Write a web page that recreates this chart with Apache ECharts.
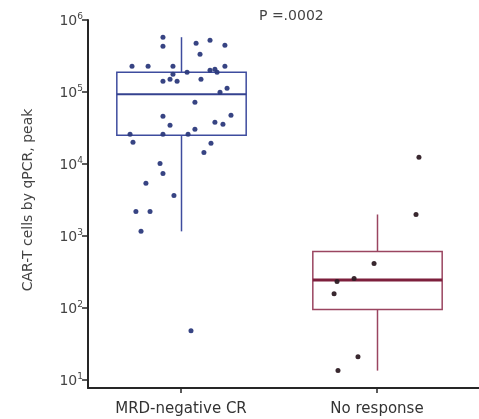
<!DOCTYPE html>
<html>
<head>
<meta charset="utf-8">
<script src="https://cdn.jsdelivr.net/npm/echarts@6/dist/echarts.min.js"></script>
<style>
  html, body { margin: 0; padding: 0; background: #fff; }
  #chart { width: 479px; height: 419px; }
</style>
</head>
<body>
<div id="chart"></div>
<script>
// Response groups on the x axis
const categories = ['MRD-negative CR', 'No response'];

// Box summaries per group: [lower whisker, Q1, median, Q3, upper whisker]
const mrdBox = [1160, 25000, 93000, 188000, 577000];
const nrBox = [13.5, 95, 245, 608, 1990];

// Individual peak CAR-T values (cells by qPCR) and their horizontal jitter within the group
const mrdValues = [
  577000, 433000, 476000, 524000, 447000, 335000,
  228000, 228000, 228000, 228000,
  141000, 150000, 141000, 177000, 188000, 150000, 201000, 207000, 188000,
  113000, 99000, 72000,
  46000, 34400, 30300, 25800, 37900, 35600, 47400,
  25800, 20000, 25800, 10200, 19400, 14500,
  7400, 5400, 3660, 2190, 2190, 1160, 48.5
];
const mrdJitter = [
  -0.092, -0.092, 0.077, 0.148, 0.224, 0.097,
  -0.250, -0.168, -0.041, 0.224,
  -0.092, -0.056, -0.020, -0.041, 0.031, 0.102, 0.148, 0.173, 0.184,
  0.235, 0.199, 0.071,
  -0.092, -0.056, 0.071, 0.036, 0.173, 0.214, 0.255,
  -0.260, -0.245, -0.092, -0.107, 0.153, 0.117,
  -0.092, -0.179, -0.036, -0.230, -0.158, -0.204, 0.051
];
const nrValues = [12400, 1990, 415, 233, 257, 158, 21, 13.5];
const nrJitter = [0.214, 0.199, -0.015, -0.204, -0.117, -0.219, -0.097, -0.199];

// Decade tick values shown on the log axis
const yTickValues = [10, 100, 1000, 10000, 100000, 1000000];

const pValueText = 'P =.0002';
const yTitle = 'CAR-T cells by qPCR, peak';

const FONT = '"DejaVu Sans", Verdana, sans-serif';
const styles = [
  { box: '#3e4c9e', median: '#35428f', dot: '#2c3a7c' },
  { box: '#9a4560', median: '#7d1f3c', dot: '#2e1c24' }
];

const boxData = [mrdBox, nrBox].map((s, i) => [i].concat(s));
const mrdPoints = mrdValues.map((v, i) => [0 + mrdJitter[i], v]);
const nrPoints = nrValues.map((v, i) => [1 + nrJitter[i], v]);

function renderBox(params, api) {
  const idx = api.value(0);
  const st = styles[idx];
  const low = api.coord([idx, api.value(1)]);
  const q1 = api.coord([idx, api.value(2)]);
  const med = api.coord([idx, api.value(3)]);
  const q3 = api.coord([idx, api.value(4)]);
  const high = api.coord([idx, api.value(5)]);
  const half = api.size([1, 0])[0] * 0.33;
  const cx = Math.round(low[0]) + 0.5;
  const line = (x1, y1, x2, y2, w, c) => ({
    type: 'line',
    shape: { x1, y1, x2, y2 },
    style: { stroke: c, lineWidth: w }
  });
  return {
    type: 'group',
    children: [
      line(cx, high[1], cx, q3[1], 1.5, st.box),
      line(cx, q1[1], cx, low[1], 1.5, st.box),
      {
        type: 'rect',
        shape: { x: cx - half, y: q3[1], width: half * 2, height: q1[1] - q3[1] },
        style: { fill: 'rgba(255,255,255,0)', stroke: st.box, lineWidth: 1.5 }
      },
      line(cx - half, med[1], cx + half, med[1], idx === 0 ? 2 : 3, st.median)
    ]
  };
}

const chart = echarts.init(document.getElementById('chart'), null, { renderer: 'canvas' });

chart.setOption({
  backgroundColor: '#ffffff',
  animation: false,
  textStyle: { fontFamily: FONT },
  grid: [
    // frame grid: carries the L-shaped axis lines
    { left: 88, right: 0, top: 20, bottom: 31 },
    // data grid
    { left: 83, width: 392, top: 20, bottom: 39 }
  ],
  xAxis: [
    {
      gridIndex: 0, type: 'value', min: 0, max: 1,
      axisLine: { show: true, onZero: false, lineStyle: { color: '#262626', width: 2 } },
      axisTick: { show: false }, axisLabel: { show: false }, splitLine: { show: false }
    },
    {
      gridIndex: 1, type: 'category', data: categories, offset: 8,
      axisLine: { show: false, onZero: false },
      axisTick: { show: true, alignWithLabel: true, length: 5, lineStyle: { color: '#262626', width: 1.5 } },
      axisLabel: { color: '#333', fontSize: 15, margin: 14, fontFamily: FONT },
      splitLine: { show: false }
    },
    {
      gridIndex: 1, type: 'value', min: -0.5, max: 1.5, show: false,
      axisLine: { onZero: false }
    }
  ],
  yAxis: [
    {
      gridIndex: 0, type: 'value', min: 0, max: 1,
      axisLine: { show: true, onZero: false, lineStyle: { color: '#262626', width: 2 } },
      axisTick: { show: false }, axisLabel: { show: false }, splitLine: { show: false }
    },
    {
      gridIndex: 1, type: 'log', logBase: 10, min: yTickValues[0], max: yTickValues[yTickValues.length - 1],
      interval: 1, offset: -5,
      name: yTitle, nameLocation: 'middle', nameGap: 53, nameRotate: 90,
      nameTextStyle: { color: '#444', fontSize: 14, fontFamily: FONT },
      axisLine: { show: false, onZero: false },
      axisTick: { show: true, length: 6, lineStyle: { color: '#262626', width: 1.5 } },
      axisLabel: {
        margin: 5,
        formatter: (v) => '{b|10}{s|' + Math.round(Math.log10(v)) + '}',
        rich: {
          b: { fontSize: 14, color: '#444', fontFamily: FONT, lineHeight: 16, verticalAlign: 'bottom' },
          s: { fontSize: 9, color: '#444', fontFamily: FONT, lineHeight: 16, verticalAlign: 'top' }
        }
      },
      splitLine: { show: false }
    }
  ],
  series: [
    {
      type: 'custom',
      xAxisIndex: 1, yAxisIndex: 1,
      renderItem: renderBox,
      encode: { x: 0, y: [1, 2, 3, 4, 5] },
      data: boxData,
      z: 2
    },
    {
      type: 'scatter', xAxisIndex: 2, yAxisIndex: 1,
      data: mrdPoints, symbolSize: 5,
      itemStyle: { color: styles[0].dot, opacity: 0.95 },
      z: 3
    },
    {
      type: 'scatter', xAxisIndex: 2, yAxisIndex: 1,
      data: nrPoints, symbolSize: 5,
      itemStyle: { color: styles[1].dot, opacity: 0.95 },
      z: 3
    }
  ],
  graphic: [
    {
      type: 'text', left: 259, top: 9,
      style: { text: pValueText, fill: '#444', fontSize: 14, fontFamily: FONT }
    }
  ]
});
</script>
</body>
</html>
